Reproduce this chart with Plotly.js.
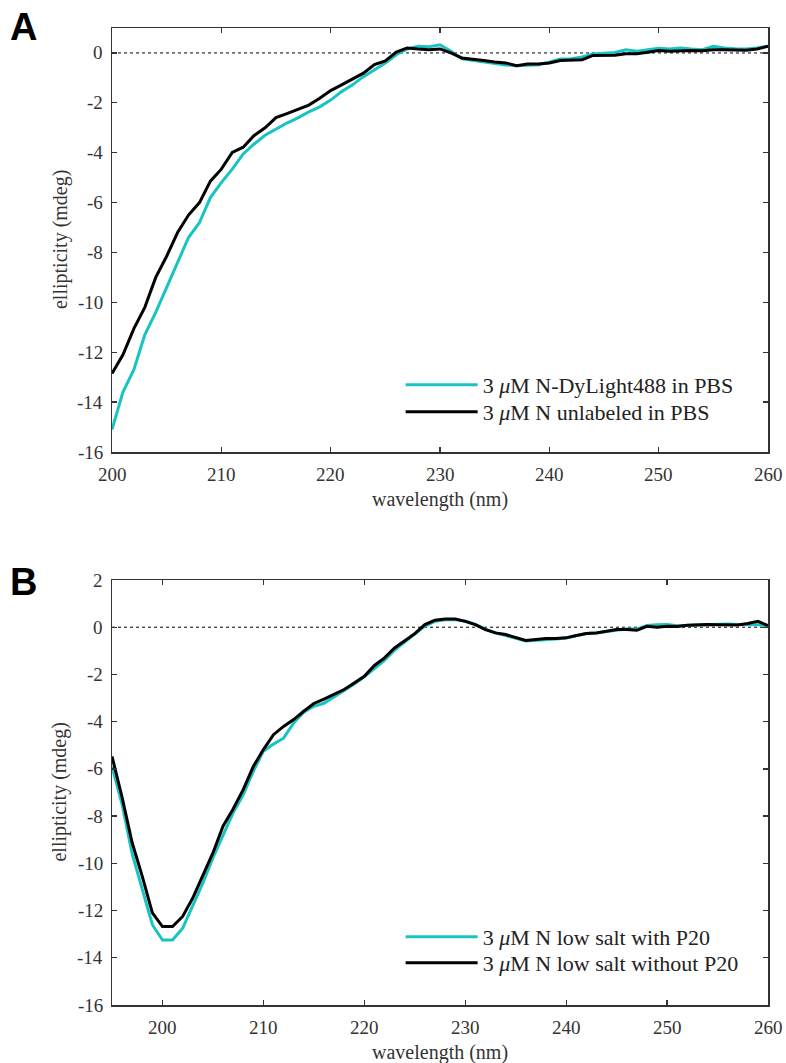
<!DOCTYPE html>
<html>
<head>
<meta charset="utf-8">
<script src="https://cdn.plot.ly/plotly-3.0.1.min.js"></script>
<style>
html,body{margin:0;padding:0;background:#fff;}
#chart{width:786px;height:1063px;}
</style>
</head>
<body>
<div id="chart"></div>
<script>
// Panel A: wavelength 200..260 nm
const wlA = [200,201,202,203,204,205,206,207,208,209,210,211,212,213,214,215,216,217,218,219,220,
  221,222,223,224,225,226,227,228,229,230,231,232,233,234,235,236,237,238,239,240,
  241,242,243,244,245,246,247,248,249,250,251,252,253,254,255,256,257,258,259,260];
const dyLightPBS = [-15.1,-13.6,-12.7,-11.3,-10.4,-9.4,-8.4,-7.4,-6.8,-5.8,-5.2,-4.66,-4.05,-3.65,-3.3,-3.04,-2.81,-2.6,-2.36,-2.16,-1.89,
  -1.55,-1.28,-0.95,-0.68,-0.4,-0.07,0.16,0.27,0.25,0.33,0.07,-0.24,-0.3,-0.37,-0.44,-0.48,-0.51,-0.49,-0.47,-0.37,
  -0.24,-0.23,-0.16,-0.04,0,0.02,0.13,0.07,0.13,0.19,0.16,0.2,0.16,0.13,0.27,0.2,0.17,0.16,0.2,0.27];
const unlabeledPBS = [-12.85,-12.1,-11.05,-10.2,-9.0,-8.15,-7.2,-6.5,-6.0,-5.14,-4.66,-3.99,-3.78,-3.31,-3.0,-2.59,-2.43,-2.27,-2.09,-1.82,-1.51,
  -1.28,-1.05,-0.81,-0.47,-0.32,0.03,0.2,0.16,0.13,0.16,0,-0.2,-0.24,-0.3,-0.36,-0.4,-0.51,-0.44,-0.44,-0.4,
  -0.3,-0.3,-0.27,-0.1,-0.08,-0.09,-0.03,-0.03,0.03,0.1,0.07,0.09,0.1,0.09,0.13,0.13,0.13,0.11,0.16,0.27];

// Panel B: wavelength 195..260 nm
const wlB = [195,196,197,198,199,200,201,202,203,204,205,206,207,208,209,210,211,212,213,214,215,216,217,218,219,220,
  221,222,223,224,225,226,227,228,229,230,231,232,233,234,235,236,237,238,239,240,
  241,242,243,244,245,246,247,248,249,250,251,252,253,254,255,256,257,258,259,260];
const withP20 = [-5.9,-7.5,-9.6,-11.1,-12.6,-13.25,-13.25,-12.75,-11.83,-10.84,-9.77,-8.78,-7.86,-7.1,-6.1,-5.25,-4.95,-4.7,-4.05,-3.6,-3.35,-3.22,-2.95,-2.7,-2.4,-2.1,
  -1.75,-1.4,-0.97,-0.62,-0.3,0.05,0.25,0.32,0.33,0.26,0.12,-0.08,-0.24,-0.34,-0.47,-0.58,-0.56,-0.52,-0.5,-0.46,
  -0.35,-0.27,-0.23,-0.18,-0.12,-0.08,-0.08,0.07,0.1,0.12,0.06,0.08,0.1,0.13,0.14,0.14,0.12,0.12,0.1,0.05];
const withoutP20 = [-5.47,-7.2,-9.13,-10.55,-12.1,-12.68,-12.68,-12.25,-11.47,-10.55,-9.56,-8.43,-7.7,-6.88,-5.9,-5.18,-4.55,-4.2,-3.91,-3.56,-3.23,-3.04,-2.85,-2.64,-2.36,-2.08,
  -1.62,-1.3,-0.88,-0.59,-0.27,0.11,0.3,0.35,0.35,0.25,0.11,-0.1,-0.24,-0.31,-0.45,-0.56,-0.52,-0.48,-0.48,-0.45,
  -0.35,-0.27,-0.24,-0.17,-0.1,-0.1,-0.13,0.04,0,0.04,0.03,0.08,0.11,0.11,0.1,0.09,0.09,0.16,0.25,0.07];

const namesA = ['3 <i>μ</i>M N-DyLight488 in PBS', '3 <i>μ</i>M N unlabeled in PBS'];
const namesB = ['3 <i>μ</i>M N low salt with P20', '3 <i>μ</i>M N low salt without P20'];
const ticksX = [200,210,220,230,240,250,260];
const ticksA = [-16,-14,-12,-10,-8,-6,-4,-2,0];
const ticksB = [-16,-14,-12,-10,-8,-6,-4,-2,0,2];
const xTitle = 'wavelength (nm)';
const yTitle = 'ellipticity (mdeg)';

const CYAN = '#19c3c3';
const serif = 'Liberation Serif';
const txt = '#333333';

const traces = [
  {x: wlA, y: dyLightPBS, name: namesA[0], type: 'scatter', mode: 'lines', line: {color: CYAN, width: 3}, xaxis: 'x', yaxis: 'y', legend: 'legend'},
  {x: wlA, y: unlabeledPBS, name: namesA[1], type: 'scatter', mode: 'lines', line: {color: '#000', width: 3}, xaxis: 'x', yaxis: 'y', legend: 'legend2'},
  {x: wlB, y: withP20, name: namesB[0], type: 'scatter', mode: 'lines', line: {color: CYAN, width: 3}, xaxis: 'x2', yaxis: 'y2', legend: 'legend3'},
  {x: wlB, y: withoutP20, name: namesB[1], type: 'scatter', mode: 'lines', line: {color: '#000', width: 3}, xaxis: 'x2', yaxis: 'y2', legend: 'legend4'}
];

function ax(extra) {
  return Object.assign({
    showline: true, linecolor: '#333', linewidth: 1.5, mirror: 'ticks',
    ticks: 'inside', ticklen: 5, tickwidth: 1.3, tickcolor: '#333',
    showgrid: false, zeroline: false, tickmode: 'array', showticklabels: false
  }, extra);
}
function leg(y) {
  return {x: 0.44, y: y, xanchor: 'left', yanchor: 'middle', bgcolor: 'rgba(0,0,0,0)', borderwidth: 0,
    font: {family: serif, size: 22, color: '#222'}, itemwidth: 72};
}

// axis labels drawn as serif text annotations placed through the axes' own scales
const tf = {family: serif, size: 19, color: txt};
const titleFont = {family: serif, size: 20, color: txt};
function axisTexts(xr, yr, yticks) {
  const out = [];
  ticksX.forEach(v => out.push({text: String(v), xref: xr, yref: yr + ' domain', x: v, y: 0,
    xanchor: 'center', yanchor: 'middle', yshift: -22, showarrow: false, font: tf}));
  yticks.forEach(v => out.push({text: String(v), xref: xr + ' domain', yref: yr, x: 0, y: v,
    xanchor: 'right', yanchor: 'middle', xshift: -7, showarrow: false, font: tf}));
  out.push({text: xTitle, xref: xr + ' domain', yref: yr + ' domain', x: 0.5, y: 0,
    xanchor: 'center', yanchor: 'middle', yshift: -47, showarrow: false, font: titleFont});
  out.push({text: yTitle, xref: xr + ' domain', yref: yr + ' domain', x: 0, y: 0.5, textangle: -90,
    xanchor: 'center', yanchor: 'middle', xshift: -52, showarrow: false, font: titleFont});
  return out;
}

const layout = {
  width: 786, height: 1063,
  margin: {l: 112, r: 18, t: 28, b: 58},
  paper_bgcolor: '#fff', plot_bgcolor: '#fff',
  font: {family: serif},
  showlegend: true,
  xaxis: ax({domain: [0, 1], anchor: 'y', range: [200, 260], tickvals: ticksX}),
  yaxis: ax({domain: [0.566, 1], anchor: 'x', range: [-16, 1], tickvals: ticksA}),
  xaxis2: ax({domain: [0, 1], anchor: 'y2', range: [195, 260], tickvals: ticksX}),
  yaxis2: ax({domain: [0, 0.435], anchor: 'x2', range: [-16, 2], tickvals: ticksB}),
  legend: leg(0.6346),
  legend2: leg(0.607),
  legend3: leg(0.0696),
  legend4: leg(0.043),
  shapes: [
    {type: 'line', xref: 'x domain', yref: 'y', x0: 0, x1: 1, y0: 0, y1: 0, layer: 'below', line: {color: '#000', width: 1, dash: 'dot'}},
    {type: 'line', xref: 'x2 domain', yref: 'y2', x0: 0, x1: 1, y0: 0, y1: 0, layer: 'below', line: {color: '#000', width: 1, dash: 'dot'}}
  ],
  annotations: [
    {text: '<b>A</b>', xref: 'paper', yref: 'paper', x: -0.158, y: 1.025, xanchor: 'left', yanchor: 'top', showarrow: false,
      font: {family: 'Liberation Sans', size: 38, color: '#000'}},
    {text: '<b>B</b>', xref: 'paper', yref: 'paper', x: -0.158, y: 0.456, xanchor: 'left', yanchor: 'top', showarrow: false,
      font: {family: 'Liberation Sans', size: 38, color: '#000'}}
  ].concat(axisTexts('x', 'y', ticksA), axisTexts('x2', 'y2', ticksB))
};

Plotly.newPlot('chart', traces, layout, {displayModeBar: false, staticPlot: true});
</script>
</body>
</html>
